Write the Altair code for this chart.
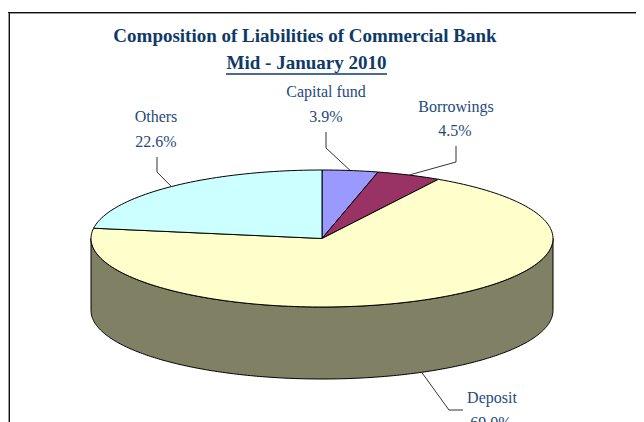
import math
import altair as alt
import pandas as pd

names = ["Capital fund", "Borrowings", "Deposit", "Others"]
shares = [3.9, 4.5, 69.0, 22.6]
percent_labels = ["3.9%", "4.5%", "69.0%", "22.6%"]
colors = ["#9999FF", "#993366", "#FFFFCC", "#CCFFFF"]
title_lines = ["Composition of Liabilities of Commercial Bank", "Mid - January 2010"]

WALL = "#808064"
TEXT = "#1F4A7C"
NAVY = "#0F3A68"
CX, CY, RX, RY, DEPTH = 322, 238.5, 231, 68.5, 72
W, H = 628, 414

xs = alt.Scale(domain=[8, 636], range=[0, W], nice=False, zero=False)
ys = alt.Scale(domain=[8, 422], range=[0, H], nice=False, zero=False)
X = lambda f="x": alt.X(f"{f}:Q", scale=xs, axis=None)
Y = lambda f="y": alt.Y(f"{f}:Q", scale=ys, axis=None)


def rim(frac, drop=0):
    t = 2 * math.pi * frac
    return CX + RX * math.sin(t), CY - RY * math.cos(t) + drop


def poly(points, fill, stroke="#000000", width=1.0):
    df = pd.DataFrame([{"x": p[0], "y": p[1], "i": i} for i, p in enumerate(points)])
    if fill:
        mark = alt.Chart(df).mark_line(
            interpolate="linear-closed", fill=fill, stroke=stroke, strokeWidth=width
        )
    else:
        mark = alt.Chart(df).mark_line(stroke=stroke, strokeWidth=width)
    return mark.encode(x=X(), y=Y(), order="i:Q")


N = 240
layers = []

# side wall: the front half of the rim and the same half dropped by the depth
front = [rim(0.25 + 0.5 * k / N) for k in range(N + 1)]
back = [rim(0.75 - 0.5 * k / N, DEPTH) for k in range(N + 1)]
layers.append(poly(front + back, WALL))

# top face
total = sum(shares)
cum = 0.0
mids = []
for name, share, col in zip(names, shares, colors):
    a, b = cum / total, (cum + share) / total
    n = max(4, int(N * (b - a)))
    layers.append(poly([(CX, CY)] + [rim(a + (b - a) * k / n) for k in range(n + 1)], col))
    mids.append((a + b) / 2)
    cum += share

# leader lines anchored on the slice rims
elbows = [
    [(326, 148), (326, 132)],
    [(456, 162), (456, 146)],
    [(449, 410), (463, 410)],
    [(157, 172), (157, 157)],
]
for name, mid, elbow in zip(names, mids, elbows):
    start = rim(mid, DEPTH if name == "Deposit" else 0)
    layers.append(poly([start] + elbow, None, stroke="#333333", width=1))

# frame
layers.append(poly([(8, 12.5), (636, 12.5)], None, "#111111", 1))
layers.append(poly([(8, 13.5), (636, 13.5)], None, "#999999", 1))
layers.append(poly([(8.5, 13), (8.5, 422)], None, "#999999", 1))
layers.append(poly([(9.5, 13), (9.5, 422)], None, "#111111", 1))

# title
title_df = pd.DataFrame({"t": title_lines, "x": [305, 306.5], "y": [36, 63]})
layers.append(alt.Chart(title_df).mark_text(
    font="Liberation Serif", fontWeight="bold", fontSize=19, color=NAVY, align="center", baseline="middle"
).encode(x=X(), y=Y(), text="t:N"))
layers.append(poly([(226, 74), (387, 74)], None, NAVY, 1.6))

# slice labels
name_pos = [(326, 92), (456, 107), (492, 398), (156, 117)]
pct_pos = [(326, 117), (455, 131), (491, 423), (156, 142)]
label_df = pd.DataFrame(
    [{"t": n, "x": p[0], "y": p[1]} for n, p in zip(names, name_pos)]
    + [{"t": n, "x": p[0], "y": p[1]} for n, p in zip(percent_labels, pct_pos)]
)
layers.append(alt.Chart(label_df).mark_text(
    font="Liberation Serif", fontSize=16, color=TEXT, align="center", baseline="middle"
).encode(x=X(), y=Y(), text="t:N"))

chart = alt.layer(*layers).properties(
    width=W, height=H, padding=0,
    autosize=alt.AutoSizeParams(type="none"),
).configure_view(stroke=None)

chart.save("out.html", embed_options={"renderer": "svg", "actions": False})
